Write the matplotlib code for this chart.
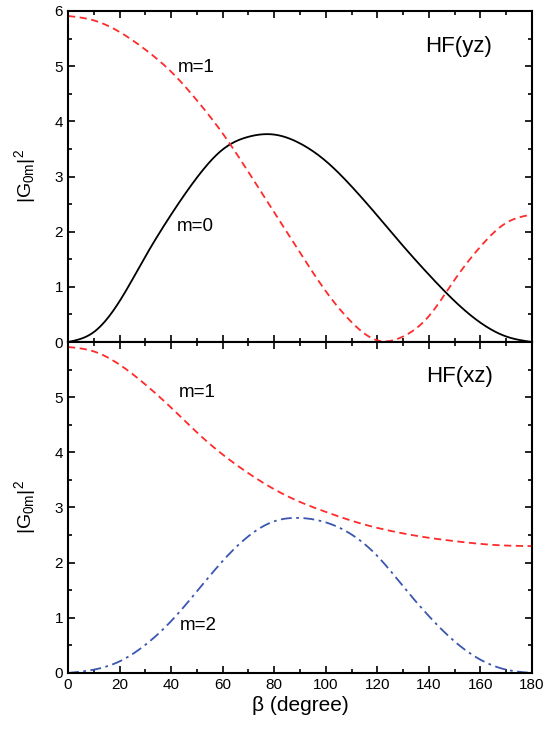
import numpy as np
import matplotlib
matplotlib.use('Agg')
import matplotlib.pyplot as plt
from matplotlib.ticker import MultipleLocator

plt.rcParams['font.family'] = ['Liberation Sans', 'DejaVu Sans']
plt.rcParams['mathtext.default'] = 'regular'

# beta in degrees
beta = [0, 10, 20, 30, 40, 50, 60, 70, 80, 90, 100, 110, 120, 130, 140, 150, 160, 170, 180]

# HF(yz)
yz_m0 = [0.0, 0.18, 0.74, 1.55, 2.31, 2.98, 3.49, 3.72, 3.76, 3.60, 3.28, 2.82, 2.29, 1.74, 1.22, 0.74, 0.35, 0.10, 0.0]
yz_m1 = [5.91, 5.83, 5.62, 5.30, 4.90, 4.38, 3.78, 3.08, 2.35, 1.62, 0.92, 0.36, 0.03, 0.10, 0.47, 1.13, 1.73, 2.16, 2.31]

# HF(xz)
xz_m1 = [5.91, 5.83, 5.59, 5.23, 4.81, 4.36, 3.96, 3.62, 3.33, 3.10, 2.92, 2.76, 2.63, 2.53, 2.45, 2.39, 2.34, 2.31, 2.30]
xz_m2 = [0.0, 0.06, 0.21, 0.51, 0.94, 1.48, 2.03, 2.48, 2.75, 2.81, 2.73, 2.51, 2.12, 1.57, 1.03, 0.57, 0.24, 0.06, 0.0]

bx = np.linspace(0, 180, 361)


def spline(y):
    # natural cubic spline through the read points
    xs = np.array(beta, float)
    ys = np.array(y, float)
    n = len(xs)
    h = np.diff(xs)
    A = np.zeros((n, n))
    r = np.zeros(n)
    A[0, 0] = A[-1, -1] = 1
    for i in range(1, n - 1):
        A[i, i - 1] = h[i - 1]
        A[i, i] = 2 * (h[i - 1] + h[i])
        A[i, i + 1] = h[i]
        r[i] = 6 * ((ys[i + 1] - ys[i]) / h[i] - (ys[i] - ys[i - 1]) / h[i - 1])
    M = np.linalg.solve(A, r)
    k = np.clip(np.searchsorted(xs, bx, side='right') - 1, 0, n - 2)
    a = xs[k + 1] - bx
    b = bx - xs[k]
    hk = h[k]
    out = (M[k] * a**3 + M[k + 1] * b**3) / (6 * hk) \
        + (ys[k] / hk - M[k] * hk / 6) * a + (ys[k + 1] / hk - M[k + 1] * hk / 6) * b
    return np.clip(out, 0, None)


red = '#ff2a2a'
blue = '#3a56b0'

fig = plt.figure(figsize=(5.49, 7.33), dpi=100)
ax1 = fig.add_axes([0.1239, 0.5334, 0.8452, 0.4516])
ax2 = fig.add_axes([0.1239, 0.0819, 0.8452, 0.4515])

ax1.plot(bx, spline(yz_m0), color='black', lw=1.3)
ax1.plot(bx, spline(yz_m1), color=red, lw=1.3, dashes=(4, 2.5))
ax2.plot(bx, spline(xz_m1), color=red, lw=1.3, dashes=(4, 2.5))
ax2.plot(bx, spline(xz_m2), color=blue, lw=1.3, dashes=(6, 2.5, 1.5, 2.5))

for ax in (ax1, ax2):
    ax.set_xlim(0, 180)
    ax.set_ylim(0, 6)
    ax.xaxis.set_major_locator(MultipleLocator(20))
    ax.xaxis.set_minor_locator(MultipleLocator(10))
    ax.yaxis.set_major_locator(MultipleLocator(1))
    ax.yaxis.set_minor_locator(MultipleLocator(0.5))
    ax.tick_params(which='both', direction='in', top=True, right=True, width=1.2, labelsize=11)
    ax.tick_params(which='major', length=5)
    ax.tick_params(which='minor', length=3)
    for s in ax.spines.values():
        s.set_linewidth(1.5)
    ax.set_ylabel('$|G_{0m}|^2$', fontsize=14, labelpad=12)

ax1.tick_params(labelbottom=False)
ax2.set_yticks([0, 1, 2, 3, 4, 5])
ax2.set_xlabel('β (degree)', fontsize=15, labelpad=3)

ax1.text(42.7, 4.98, 'm=1', fontsize=13.5, va='center')
ax1.text(42.3, 2.09, 'm=0', fontsize=13.5, va='center')
ax1.text(138.5, 5.35, 'HF(yz)', fontsize=16, va='center')
ax2.text(43, 5.08, 'm=1', fontsize=13.5, va='center')
ax2.text(43.4, 0.86, 'm=2', fontsize=13.5, va='center')
ax2.text(138.9, 5.37, 'HF(xz)', fontsize=16, va='center')

fig.savefig('out.png', dpi=100)
